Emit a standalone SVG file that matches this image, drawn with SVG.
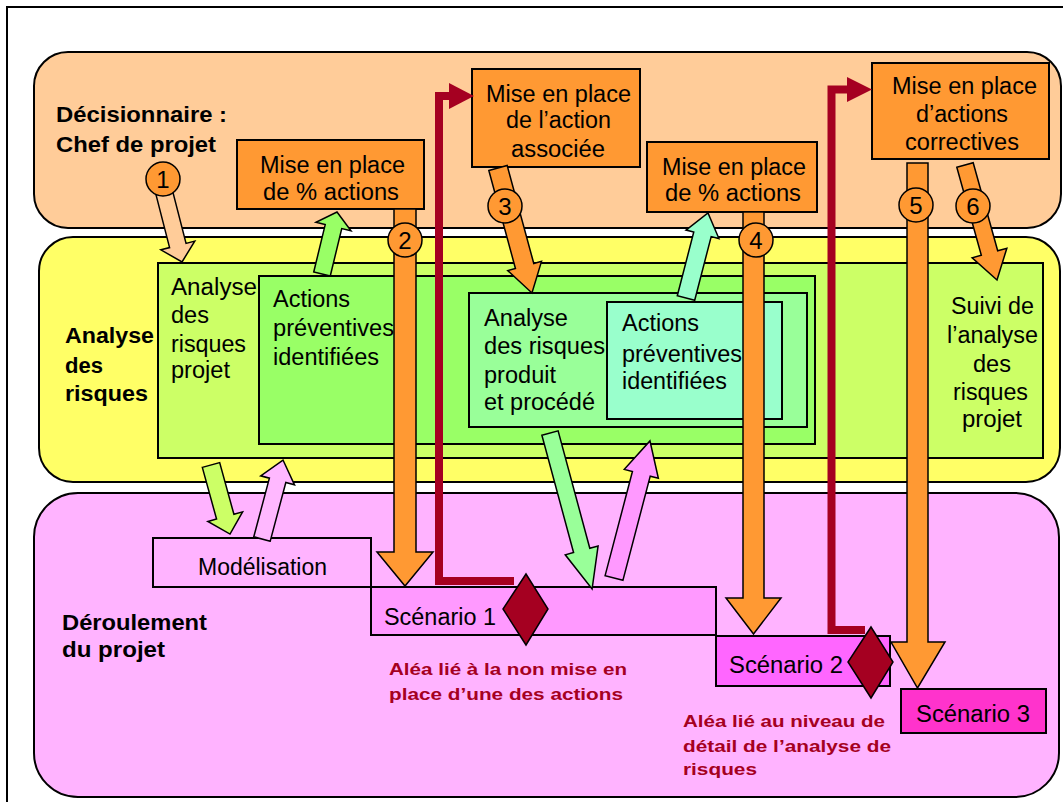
<svg xmlns="http://www.w3.org/2000/svg" width="1063" height="802" viewBox="0 0 1063 802">
<style>
text{font-family:"Liberation Sans",Arial,sans-serif;fill:#000}
.t{font-size:23px}
.b{font-size:22px;font-weight:bold}
.al{font-size:17px;font-weight:bold;fill:#A50021}
.n{font-size:24px;text-anchor:middle}
.box{stroke:#000;stroke-width:2}
.arr{stroke:#000;stroke-width:1.5;stroke-linejoin:miter}
.org{fill:#FF9933}
.red{fill:none;stroke:#A50021;stroke-width:8;stroke-linejoin:miter}
.rh{fill:#A50021}
.dia{fill:#A50021;stroke:#000;stroke-width:1.5}
.num{fill:#FF9933;stroke:#000;stroke-width:1.5}
</style>
<rect x="0" y="0" width="1063" height="802" fill="#fff"/>
<rect x="7" y="7" width="1080" height="820" fill="none" stroke="#000" stroke-width="2"/>

<g id="band-decision">
<rect x="34" y="52" width="1027" height="176" rx="34" fill="#FFCC99" class="box"/>
<text class="b" x="56" y="122" textLength="171" lengthAdjust="spacingAndGlyphs">Décisionnaire :</text>
<text class="b" x="56" y="152" textLength="160" lengthAdjust="spacingAndGlyphs">Chef de projet</text>
</g>
<g id="band-analyse">
<rect x="39" y="237" width="1021" height="245" rx="34" fill="#FFFF66" class="box"/>
<text class="b" x="65" y="343" textLength="89" lengthAdjust="spacingAndGlyphs">Analyse</text>
<text class="b" x="65" y="373" textLength="38" lengthAdjust="spacingAndGlyphs">des</text>
<text class="b" x="65" y="401" textLength="83" lengthAdjust="spacingAndGlyphs">risques</text>
</g>
<g id="band-deroulement">
<rect x="34" y="493" width="1025" height="304" rx="44" fill="#FFB3FF" class="box"/>
<text class="b" x="62" y="630" textLength="145" lengthAdjust="spacingAndGlyphs">Déroulement</text>
<text class="b" x="62" y="657" textLength="103" lengthAdjust="spacingAndGlyphs">du projet</text>
</g>

<g id="analyse-projet">
<rect x="158" y="263" width="885" height="195" fill="#CCFF66" class="box"/>
<text class="t" x="171" y="295" textLength="86" lengthAdjust="spacingAndGlyphs">Analyse</text>
<text class="t" x="171" y="323" textLength="38" lengthAdjust="spacingAndGlyphs">des</text>
<text class="t" x="171" y="352" textLength="75" lengthAdjust="spacingAndGlyphs">risques</text>
<text class="t" x="171" y="378" textLength="59" lengthAdjust="spacingAndGlyphs">projet</text>
<text class="t" x="951" y="314" textLength="83" lengthAdjust="spacingAndGlyphs">Suivi de</text>
<text class="t" x="947" y="343" textLength="91" lengthAdjust="spacingAndGlyphs">l’analyse</text>
<text class="t" x="973" y="372" textLength="38" lengthAdjust="spacingAndGlyphs">des</text>
<text class="t" x="953" y="400" textLength="75" lengthAdjust="spacingAndGlyphs">risques</text>
<text class="t" x="962" y="427" textLength="60" lengthAdjust="spacingAndGlyphs">projet</text>
</g>
<g id="actions-projet">
<rect x="259" y="276" width="556" height="168" fill="#99FF66" class="box"/>
<text class="t" x="273" y="307" textLength="77" lengthAdjust="spacingAndGlyphs">Actions</text>
<text class="t" x="273" y="336" textLength="121" lengthAdjust="spacingAndGlyphs">préventives</text>
<text class="t" x="273" y="365" textLength="106" lengthAdjust="spacingAndGlyphs">identifiées</text>
</g>
<g id="analyse-produit">
<rect x="469" y="293" width="338" height="134" fill="#99FF99" class="box"/>
<text class="t" x="484" y="326" textLength="84" lengthAdjust="spacingAndGlyphs">Analyse</text>
<text class="t" x="484" y="354" textLength="121" lengthAdjust="spacingAndGlyphs">des risques</text>
<text class="t" x="484" y="383" textLength="72" lengthAdjust="spacingAndGlyphs">produit</text>
<text class="t" x="484" y="410" textLength="111" lengthAdjust="spacingAndGlyphs">et procédé</text>
</g>
<g id="actions-produit">
<rect x="607" y="302" width="175" height="117" fill="#99FFCC" class="box"/>
<text class="t" x="622" y="331" textLength="77" lengthAdjust="spacingAndGlyphs">Actions</text>
<text class="t" x="622" y="362" textLength="120" lengthAdjust="spacingAndGlyphs">préventives</text>
<text class="t" x="622" y="389" textLength="105" lengthAdjust="spacingAndGlyphs">identifiées</text>
</g>

<g id="box-a">
<rect x="237" y="140" width="187" height="69" class="box org"/>
<text class="t" x="260" y="173" textLength="145" lengthAdjust="spacingAndGlyphs">Mise en place</text>
<text class="t" x="263" y="200" textLength="136" lengthAdjust="spacingAndGlyphs">de % actions</text>
</g>
<g id="box-b">
<rect x="472" y="69" width="168" height="98" class="box org"/>
<text class="t" x="486" y="102" textLength="145" lengthAdjust="spacingAndGlyphs">Mise en place</text>
<text class="t" x="506" y="128" textLength="105" lengthAdjust="spacingAndGlyphs">de l’action</text>
<text class="t" x="511" y="157" textLength="94" lengthAdjust="spacingAndGlyphs">associée</text>
</g>
<g id="box-c">
<rect x="647" y="142" width="170" height="70" class="box org"/>
<text class="t" x="662" y="175" textLength="144" lengthAdjust="spacingAndGlyphs">Mise en place</text>
<text class="t" x="665" y="201" textLength="136" lengthAdjust="spacingAndGlyphs">de % actions</text>
</g>
<g id="box-d">
<rect x="872" y="63" width="177" height="96" class="box org"/>
<text class="t" x="892" y="94" textLength="145" lengthAdjust="spacingAndGlyphs">Mise en place</text>
<text class="t" x="916" y="122" textLength="92" lengthAdjust="spacingAndGlyphs">d’actions</text>
<text class="t" x="905" y="150" textLength="114" lengthAdjust="spacingAndGlyphs">correctives</text>
</g>

<g id="modelisation">
<rect x="153" y="538" width="218" height="49" fill="#FFB3FF" class="box"/>
<text class="t" x="198" y="575" textLength="129" lengthAdjust="spacingAndGlyphs">Modélisation</text>
</g>
<g id="scenario-1">
<rect x="371" y="587" width="345" height="48" fill="#FF99FF" class="box"/>
<text class="t" x="384" y="625" textLength="112" lengthAdjust="spacingAndGlyphs">Scénario 1</text>
</g>
<g id="scenario-2">
<rect x="716" y="636" width="174" height="50" fill="#FF66FF" class="box"/>
<text class="t" x="729" y="673" textLength="114" lengthAdjust="spacingAndGlyphs">Scénario 2</text>
</g>
<g id="scenario-3">
<rect x="901" y="689" width="145" height="44" fill="#FF33CC" class="box"/>
<text class="t" x="916" y="722" textLength="114" lengthAdjust="spacingAndGlyphs">Scénario 3</text>
</g>

<g id="alea-1">
<text class="al" x="389" y="675" textLength="238" lengthAdjust="spacingAndGlyphs">Aléa lié à la non mise en</text>
<text class="al" x="389" y="700" textLength="234" lengthAdjust="spacingAndGlyphs">place d’une des actions</text>
</g>
<g id="alea-2">
<text class="al" x="683" y="727" textLength="202" lengthAdjust="spacingAndGlyphs">Aléa lié au niveau de</text>
<text class="al" x="683" y="752" textLength="208" lengthAdjust="spacingAndGlyphs">détail de l’analyse de</text>
<text class="al" x="683" y="775" textLength="74" lengthAdjust="spacingAndGlyphs">risques</text>
</g>

<g id="connectors">
<polygon class="arr" fill="#FFCC99" transform="translate(161,180) rotate(-14.4)" points="-8.5,0 8.5,0 8.5,67.6 17.5,67.6 0,84.6 -17.5,67.6 -8.5,67.6"/>
<polygon class="arr" fill="#99FF66" transform="translate(322,274) rotate(-166.4)" points="-8.5,0 8.5,0 8.5,48.8 18,48.8 0,63.8 -18,48.8 -8.5,48.8"/>
<polygon class="arr org" transform="translate(498,168) rotate(-15.2)" points="-9.5,0 9.5,0 9.5,101.5 17.5,101.5 0,129.5 -17.5,101.5 -9.5,101.5"/>
<polygon class="arr" fill="#99FFCC" transform="translate(686,298) rotate(-165.5)" points="-9,0 9,0 9,65.8 17,65.8 0,87.8 -17,65.8 -9,65.8"/>
<polygon class="arr org" transform="translate(965,165) rotate(-15.55)" points="-8.5,0 8.5,0 8.5,91.4 18,91.4 0,119.4 -18,91.4 -8.5,91.4"/>
<polygon class="arr" fill="#CCFF66" transform="translate(211,465) rotate(-15.4)" points="-9,0 9,0 9,53.6 18,53.6 0,71.6 -18,53.6 -9,53.6"/>
<polygon class="arr" fill="#FFB8FF" transform="translate(262,539) rotate(-165.1)" points="-8.5,0 8.5,0 8.5,60.7 17.5,60.7 0,81.7 -17.5,60.7 -8.5,60.7"/>
<polygon class="arr" fill="#99FF99" transform="translate(550,433) rotate(-15.1)" points="-8.4,0 8.4,0 8.4,121.6 17,121.6 0,161.6 -17,121.6 -8.4,121.6"/>
<polygon class="arr" fill="#FF99FF" transform="translate(614,578) rotate(-165.3)" points="-9.2,0 9.2,0 9.2,107.7 17.6,107.7 0,141.7 -17.6,107.7 -9.2,107.7"/>
<polygon class="arr org" points="394,209 416,209 416,552 433,552 405,586 377,552 394,552"/>
<polygon class="arr org" points="743,212 764,212 764,598 781,598 753.5,634 726,598 743,598"/>
<polygon class="arr org" points="907,163 928,163 928,642 945,642 917.5,688 891,642 907,642"/>
<path class="red" d="M514,581 H439 V96 H451"/>
<polygon class="rh" points="449,83 474,96 449,109"/>
<path class="red" d="M865,630 H831.5 V89.5 H849"/>
<polygon class="rh" points="847,77 872,89.5 847,102"/>
<circle class="num" cx="163" cy="179" r="17"/><text class="n" x="163" y="188">1</text>
<circle class="num" cx="405" cy="240" r="17"/><text class="n" x="405" y="249">2</text>
<circle class="num" cx="505" cy="206" r="17"/><text class="n" x="505" y="215">3</text>
<circle class="num" cx="756" cy="240" r="17"/><text class="n" x="756" y="249">4</text>
<circle class="num" cx="916" cy="205" r="17"/><text class="n" x="916" y="214">5</text>
<circle class="num" cx="973" cy="206" r="17"/><text class="n" x="973" y="215">6</text>
<polygon class="dia" points="526,574 548,609 526,645 503,609"/>
<polygon class="dia" points="871,627 893,662 871,698 848,662"/>
</g>
</svg>
